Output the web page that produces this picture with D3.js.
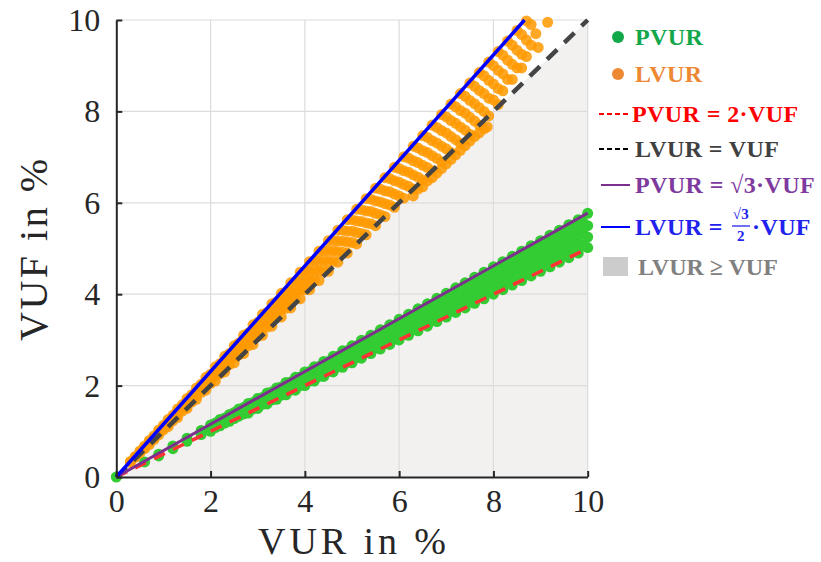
<!DOCTYPE html>
<html>
<head>
<meta charset="utf-8">
<script src="https://cdn.jsdelivr.net/npm/d3@7"></script>
<style>
  body { margin: 0; background: #fff; }
  text { font-family: "Liberation Serif", "DejaVu Serif", serif; }
</style>
</head>
<body>
<div id="chart"></div>
<script>
var svgWidth = 821;
var svgHeight = 562;

// tick values for both axes
var ticks = [0, 2, 4, 6, 8, 10];

// PVUR vs VUF points (green), [VUR, VUF]
var pvurPoints = [
  [0, 0], [0.6, 0.33], [0.9, 0.5], [0.9, 0.46], [1.2, 0.68], [1.2, 0.62], [1.5, 0.85], [1.5, 0.78],
  [1.8, 1.02], [1.8, 0.93], [2.0, 1.14], [2.0, 1.06], [2.0, 1.0], [2.2, 1.26], [2.2, 1.2], [2.2, 1.12],
  [2.4, 1.37], [2.4, 1.3], [2.4, 1.22], [2.6, 1.49], [2.6, 1.42], [2.6, 1.33],
  [2.8, 1.61], [2.8, 1.54], [2.8, 1.45], [2.8, 1.4], [3.0, 1.72], [3.0, 1.64], [3.0, 1.56], [3.0, 1.5],
  [3.2, 1.84], [3.2, 1.75], [3.2, 1.67], [3.2, 1.6], [3.4, 1.95], [3.4, 1.86], [3.4, 1.77], [3.4, 1.7],
  [3.6, 2.07], [3.6, 1.97], [3.6, 1.88], [3.6, 1.8], [3.8, 2.18], [3.8, 2.08], [3.8, 1.98], [3.8, 1.9],
  [4.0, 2.3], [4.0, 2.19], [4.0, 2.09], [4.0, 2.0], [4.2, 2.41], [4.2, 2.3], [4.2, 2.2], [4.2, 2.1],
  [4.4, 2.53], [4.4, 2.41], [4.4, 2.3], [4.4, 2.2], [4.6, 2.64], [4.6, 2.52], [4.6, 2.4], [4.6, 2.3],
  [4.8, 2.76], [4.8, 2.63], [4.8, 2.51], [4.8, 2.4], [5.0, 2.87], [5.0, 2.74], [5.0, 2.61], [5.0, 2.5],
  [5.2, 2.99], [5.2, 2.85], [5.2, 2.72], [5.2, 2.6], [5.4, 3.1], [5.4, 2.96], [5.4, 2.82], [5.4, 2.7],
  [5.6, 3.22], [5.6, 3.07], [5.6, 2.93], [5.6, 2.8], [5.8, 3.33], [5.8, 3.18], [5.8, 3.03], [5.8, 2.9],
  [6.0, 3.45], [6.0, 3.29], [6.0, 3.14], [6.0, 3.0], [6.2, 3.56], [6.2, 3.4], [6.2, 3.24], [6.2, 3.1],
  [6.4, 3.68], [6.4, 3.51], [6.4, 3.34], [6.4, 3.2], [6.6, 3.79], [6.6, 3.62], [6.6, 3.45], [6.6, 3.3],
  [6.8, 3.91], [6.8, 3.73], [6.8, 3.55], [6.8, 3.4], [7.0, 4.02], [7.0, 3.84], [7.0, 3.66], [7.0, 3.5],
  [7.2, 4.14], [7.2, 3.95], [7.2, 3.76], [7.2, 3.6], [7.4, 4.25], [7.4, 4.06], [7.4, 3.87], [7.4, 3.7],
  [7.6, 4.37], [7.6, 4.17], [7.6, 3.97], [7.6, 3.8], [7.8, 4.48], [7.8, 4.28], [7.8, 4.08], [7.8, 3.9],
  [8.0, 4.6], [8.0, 4.39], [8.0, 4.18], [8.0, 4.0], [8.2, 4.71], [8.2, 4.5], [8.2, 4.29], [8.2, 4.1],
  [8.4, 4.83], [8.4, 4.61], [8.4, 4.39], [8.4, 4.2], [8.6, 4.94], [8.6, 4.72], [8.6, 4.49], [8.6, 4.3],
  [8.8, 5.06], [8.8, 4.83], [8.8, 4.6], [8.8, 4.4], [9.0, 5.17], [9.0, 4.94], [9.0, 4.7], [9.0, 4.5],
  [9.2, 5.29], [9.2, 5.05], [9.2, 4.81], [9.2, 4.6], [9.4, 5.4], [9.4, 5.16], [9.4, 4.91], [9.4, 4.7],
  [9.6, 5.52], [9.6, 5.27], [9.6, 5.02], [9.6, 4.8], [9.8, 5.63], [9.8, 5.38], [9.8, 5.12], [9.8, 4.9],
  [10.0, 5.77], [10.0, 5.5], [10.0, 5.25], [10.0, 5.02],
  [2.1, 1.18], [2.1, 1.13], [2.1, 1.08], [2.3, 1.29], [2.3, 1.24], [2.3, 1.18], [2.5, 1.41], [2.5, 1.34], [2.5, 1.28],
  [2.7, 1.52], [2.7, 1.45], [2.7, 1.38], [2.9, 1.63], [2.9, 1.56], [2.9, 1.49], [3.1, 1.74], [3.1, 1.67], [3.1, 1.59],
  [3.3, 1.86], [3.3, 1.77], [3.3, 1.69], [3.5, 1.97], [3.5, 1.88], [3.5, 1.79], [3.7, 2.08], [3.7, 1.99], [3.7, 1.9],
  [3.9, 2.19], [3.9, 2.1], [3.9, 2.0], [4.1, 2.31], [4.1, 2.2], [4.1, 2.1], [4.3, 2.42], [4.3, 2.31], [4.3, 2.2],
  [4.5, 2.53], [4.5, 2.42], [4.5, 2.31], [4.7, 2.64], [4.7, 2.53], [4.7, 2.41], [4.9, 2.76], [4.9, 2.63], [4.9, 2.51],
  [5.1, 2.87], [5.1, 2.74], [5.1, 2.61], [5.3, 2.98], [5.3, 2.85], [5.3, 2.72], [5.5, 3.09], [5.5, 2.96], [5.5, 2.82],
  [5.7, 3.21], [5.7, 3.06], [5.7, 2.92], [5.9, 3.32], [5.9, 3.17], [5.9, 3.02], [6.1, 3.43], [6.1, 3.28], [6.1, 3.13],
  [6.3, 3.54], [6.3, 3.39], [6.3, 3.23], [6.5, 3.66], [6.5, 3.49], [6.5, 3.33], [6.7, 3.77], [6.7, 3.6], [6.7, 3.43],
  [6.9, 3.88], [6.9, 3.71], [6.9, 3.54], [7.1, 3.99], [7.1, 3.82], [7.1, 3.64], [7.3, 4.11], [7.3, 3.92], [7.3, 3.74],
  [7.5, 4.22], [7.5, 4.03], [7.5, 3.84], [7.7, 4.33], [7.7, 4.14], [7.7, 3.95], [7.9, 4.44], [7.9, 4.25], [7.9, 4.05],
  [8.1, 4.56], [8.1, 4.35], [8.1, 4.15], [8.3, 4.67], [8.3, 4.46], [8.3, 4.25], [8.5, 4.78], [8.5, 4.57], [8.5, 4.36],
  [8.7, 4.89], [8.7, 4.68], [8.7, 4.46], [8.9, 5.01], [8.9, 4.78], [8.9, 4.56], [9.1, 5.12], [9.1, 4.89], [9.1, 4.66],
  [9.3, 5.23], [9.3, 5.0], [9.3, 4.77], [9.5, 5.34], [9.5, 5.11], [9.5, 4.87], [9.7, 5.46], [9.7, 5.21], [9.7, 4.97],
  [9.9, 5.57], [9.9, 5.32], [9.9, 5.07]
];

// LVUR vs VUF points (orange), [VUR, VUF]
var lvurPoints = [
  [0.3, 0.34], [0.3, 0.32], [0.5, 0.57], [0.5, 0.53], [0.7, 0.8], [0.7, 0.76], [0.7, 0.71],
  [0.9, 1.03], [0.9, 0.98], [0.9, 0.92], [1.1, 1.26], [1.1, 1.2], [1.1, 1.15], [1.1, 1.1],
  [1.3, 1.49], [1.3, 1.42], [1.3, 1.36], [1.3, 1.3], [1.5, 1.72], [1.5, 1.65], [1.5, 1.57], [1.5, 1.5],
  [1.7, 1.95], [1.7, 1.86], [1.7, 1.78], [1.7, 1.7], [1.9, 2.18], [1.9, 2.08], [1.9, 1.99], [1.9, 1.9],
  [2.1, 2.41], [2.1, 2.3], [2.1, 2.2], [2.1, 2.1], [2.3, 2.64], [2.3, 2.53], [2.3, 2.41], [2.3, 2.3],
  [2.5, 2.87], [2.5, 2.75], [2.5, 2.62], [2.5, 2.5], [2.7, 3.1], [2.7, 2.97], [2.7, 2.83], [2.7, 2.7],
  [2.9, 3.33], [2.9, 3.18], [2.9, 3.04], [2.9, 2.9], [3.1, 3.56], [3.1, 3.4], [3.1, 3.25], [3.1, 3.1],
  [3.3, 3.79], [3.3, 3.62], [3.3, 3.46], [3.3, 3.3], [3.5, 4.02], [3.5, 3.85], [3.5, 3.67], [3.5, 3.5],
  [3.7, 4.25], [3.7, 4.06], [3.7, 3.88], [3.7, 3.7], [3.9, 4.48], [3.9, 4.28], [3.9, 4.09], [3.9, 3.9],
  [4.1, 4.71], [4.1, 4.5], [4.1, 4.3], [4.1, 4.1], [4.3, 4.94], [4.3, 4.72], [4.3, 4.51], [4.3, 4.3],
  [4.5, 5.17], [4.5, 4.95], [4.5, 4.72], [4.5, 4.5], [4.7, 5.4], [4.7, 5.16], [4.7, 4.93], [4.7, 4.7],
  [4.9, 5.63], [4.9, 5.38], [4.9, 5.14], [4.9, 4.9], [5.1, 5.86], [5.1, 5.6], [5.1, 5.35], [5.1, 5.1],
  [5.3, 6.09], [5.3, 5.82], [5.3, 5.56], [5.3, 5.3], [5.5, 6.32], [5.5, 6.04], [5.5, 5.77], [5.5, 5.5],
  [5.7, 6.55], [5.7, 6.26], [5.7, 5.98], [5.7, 5.7], [5.9, 6.78], [5.9, 6.48], [5.9, 6.19], [5.9, 5.9],
  [6.1, 7.01], [6.1, 6.7], [6.1, 6.4], [6.1, 6.1], [6.3, 7.24], [6.3, 6.92], [6.3, 6.61], [6.3, 6.3], [6.3, 6.15],
  [6.5, 7.47], [6.5, 7.14], [6.5, 6.82], [6.5, 6.5], [6.5, 6.35], [6.7, 7.7], [6.7, 7.36], [6.7, 7.03], [6.7, 6.7], [6.7, 6.55],
  [6.9, 7.93], [6.9, 7.58], [6.9, 7.24], [6.9, 6.9], [6.9, 6.75], [7.1, 8.16], [7.1, 7.8], [7.1, 7.45], [7.1, 7.1], [7.1, 6.95],
  [7.3, 8.39], [7.3, 8.02], [7.3, 7.66], [7.3, 7.3], [7.3, 7.15], [7.5, 8.62], [7.5, 8.24], [7.5, 7.87], [7.5, 7.5], [7.5, 7.35],
  [7.7, 8.85], [7.7, 8.46], [7.7, 8.08], [7.7, 7.7], [7.7, 7.53], [7.9, 9.08], [7.9, 8.68], [7.9, 8.29], [7.9, 7.9], [7.87, 7.66],
  [8.1, 9.31], [8.1, 8.9], [8.1, 8.5], [8.1, 8.15], [8.3, 9.54], [8.3, 9.12], [8.3, 8.7],
  [8.5, 9.77], [8.5, 9.34], [8.5, 8.95], [8.7, 9.98], [8.7, 9.56], [8.7, 9.2],
  [8.9, 9.7], [8.95, 9.4], [9.15, 9.95],
  [0.4, 0.45], [0.4, 0.43], [0.6, 0.68], [0.6, 0.64], [0.6, 0.62], [0.8, 0.9], [0.8, 0.86], [0.8, 0.82],
  [1.0, 1.13], [1.0, 1.08], [1.0, 1.03], [1.2, 1.35], [1.2, 1.29], [1.2, 1.23], [1.4, 1.58], [1.4, 1.51], [1.4, 1.44],
  [1.6, 1.8], [1.6, 1.72], [1.6, 1.64], [1.8, 2.03], [1.8, 1.94], [1.8, 1.85], [2.0, 2.25], [2.0, 2.15], [2.0, 2.05],
  [2.2, 2.48], [2.2, 2.37], [2.2, 2.26], [2.4, 2.7], [2.4, 2.58], [2.4, 2.46], [2.6, 2.93], [2.6, 2.8], [2.6, 2.67],
  [2.8, 3.15], [2.8, 3.01], [2.8, 2.87], [3.0, 3.38], [3.0, 3.23], [3.0, 3.08], [3.2, 3.6], [3.2, 3.44], [3.2, 3.28],
  [3.4, 3.83], [3.4, 3.66], [3.4, 3.49], [3.6, 4.05], [3.6, 3.87], [3.6, 3.69], [3.8, 4.28], [3.8, 4.09], [3.8, 3.9],
  [4.0, 4.5], [4.0, 4.3], [4.0, 4.1], [4.2, 4.73], [4.2, 4.52], [4.2, 4.31], [4.4, 4.95], [4.4, 4.73], [4.4, 4.51],
  [4.6, 5.18], [4.6, 4.95], [4.6, 4.72], [4.8, 5.4], [4.8, 5.16], [4.8, 4.92], [5.0, 5.63], [5.0, 5.38], [5.0, 5.13],
  [5.2, 5.85], [5.2, 5.59], [5.2, 5.33], [5.4, 6.08], [5.4, 5.81], [5.4, 5.54], [5.6, 6.3], [5.6, 6.02], [5.6, 5.74],
  [5.8, 6.53], [5.8, 6.24], [5.8, 5.95], [6.0, 6.75], [6.0, 6.45], [6.0, 6.15], [6.2, 6.98], [6.2, 6.67], [6.2, 6.36],
  [6.4, 7.2], [6.4, 6.88], [6.4, 6.56], [6.4, 6.3], [6.6, 7.43], [6.6, 7.1], [6.6, 6.77], [6.6, 6.48],
  [6.8, 7.65], [6.8, 7.31], [6.8, 6.97], [6.8, 6.65], [7.0, 7.88], [7.0, 7.53], [7.0, 7.18], [7.0, 6.85],
  [7.2, 8.1], [7.2, 7.74], [7.2, 7.38], [7.2, 7.05], [7.4, 8.33], [7.4, 7.96], [7.4, 7.59], [7.4, 7.25],
  [7.6, 8.55], [7.6, 8.17], [7.6, 7.79], [7.6, 7.45], [7.8, 8.78], [7.8, 8.39], [7.8, 8.0], [7.8, 7.62],
  [8.0, 9.0], [8.0, 8.6], [8.0, 8.25], [8.2, 9.23], [8.2, 8.82], [8.2, 8.45], [8.4, 9.45], [8.4, 9.03], [8.4, 8.7],
  [8.6, 9.68], [8.6, 9.25], [8.6, 8.95], [8.8, 9.9], [8.8, 9.45]
];

// reference lines, end points in [VUR, VUF]
var linePvur2 = [[0, 0], [10, 5]];
var lineLvur1 = [[0, 0], [10, 10]];
var linePvurSqrt3 = [[0, 0], [10, 5.774]];
var lineLvurHalfSqrt3 = [[0, 0], [8.66, 10]];
var shadeRegion = [[0, 0], [10, 0], [10, 10]];

var svg = d3.select("#chart")
  .append("svg")
  .attr("width", svgWidth)
  .attr("height", svgHeight);

var x = d3.scaleLinear().domain([0, 10]).range([116.3, 587.7]);
var y = d3.scaleLinear().domain([0, 10]).range([477, 20]);

// shaded area LVUR >= VUF
svg.append("path")
  .attr("d", d3.line().x(d => x(d[0])).y(d => y(d[1]))(shadeRegion) + "Z")
  .attr("fill", "#f2f1f0");

// grid
var grid = svg.append("g");
grid.selectAll(".gx")
  .data(ticks.slice(1))
  .enter()
  .append("line")
  .attr("x1", d => x(d)).attr("x2", d => x(d))
  .attr("y1", y(0)).attr("y2", y(10))
  .attr("stroke", "#dcdcdc").attr("stroke-width", 1.2);
grid.selectAll(".gy")
  .data(ticks.slice(1))
  .enter()
  .append("line")
  .attr("y1", d => y(d)).attr("y2", d => y(d))
  .attr("x1", x(0)).attr("x2", x(10))
  .attr("stroke", "#dcdcdc").attr("stroke-width", 1.2);

// scatter points
svg.append("g").selectAll("circle")
  .data(pvurPoints)
  .enter()
  .append("circle")
  .attr("cx", d => x(d[0]))
  .attr("cy", d => y(d[1]))
  .attr("r", 5.5)
  .attr("fill", "#33cc33");

svg.append("g").selectAll("circle")
  .data(lvurPoints)
  .enter()
  .append("circle")
  .attr("cx", d => x(d[0]))
  .attr("cy", d => y(d[1]))
  .attr("r", 5.5)
  .attr("fill", "#ff9900")
  .attr("fill-opacity", 0.85);

// reference lines
var line = d3.line().x(d => x(d[0])).y(d => y(d[1]));

svg.append("path").attr("d", line(linePvur2))
  .attr("stroke", "#ff3333").attr("stroke-width", 3.5).attr("fill", "none")
  .attr("stroke-dasharray", "12,9");
svg.append("path").attr("d", line(lineLvur1))
  .attr("stroke", "#444444").attr("stroke-width", 4.5).attr("fill", "none")
  .attr("stroke-dasharray", "14,10");
svg.append("path").attr("d", line(linePvurSqrt3))
  .attr("stroke", "#7e2f8e").attr("stroke-width", 3).attr("fill", "none");
svg.append("path").attr("d", line(lineLvurHalfSqrt3))
  .attr("stroke", "#0000ff").attr("stroke-width", 3.5).attr("fill", "none");

// axes with inward ticks
var xAxis = d3.axisBottom(x).tickValues(ticks).tickSize(-6).tickSizeOuter(0).tickPadding(13);
var yAxis = d3.axisLeft(y).tickValues(ticks).tickSize(-6).tickSizeOuter(0).tickPadding(16);

var gx = svg.append("g").attr("transform", `translate(0, ${y(0)})`).call(xAxis);
var gy = svg.append("g").attr("transform", `translate(${x(0)}, 0)`).call(yAxis);

[gx, gy].forEach(function(g) {
  g.attr("font-family", "Liberation Serif, serif").attr("font-size", 32);
  g.select(".domain").attr("stroke", "#262626").attr("stroke-width", 2);
  g.selectAll(".tick line").attr("stroke", "#262626").attr("stroke-width", 2);
  g.selectAll(".tick text").attr("fill", "#262626");
});
gx.selectAll(".tick text").attr("dy", "0.7em");
gy.selectAll(".tick text").attr("dy", "0.33em");

// axis labels
svg.append("text")
  .attr("x", 352).attr("y", 554)
  .attr("text-anchor", "middle")
  .attr("fill", "#262626")
  .attr("textLength", 188)
  .attr("lengthAdjust", "spacing")
  .style("font-size", "38px")
  .text("VUR in %");

svg.append("text")
  .attr("transform", "translate(47, 250) rotate(-90)")
  .attr("text-anchor", "middle")
  .attr("fill", "#262626")
  .attr("textLength", 182)
  .attr("lengthAdjust", "spacing")
  .style("font-size", "40px")
  .text("VUF in %");

// legend
var legend = svg.append("g").style("font-weight", "bold").style("font-size", "24px")
  .style("letter-spacing", "0.4px");

legend.append("circle").attr("cx", 618).attr("cy", 37).attr("r", 6).attr("fill", "#12a84a");
legend.append("text").attr("x", 635).attr("y", 45).attr("fill", "#12a84a").text("PVUR");

legend.append("circle").attr("cx", 618).attr("cy", 74).attr("r", 6).attr("fill", "#ee8833");
legend.append("text").attr("x", 635).attr("y", 82).attr("fill", "#ee8833").text("LVUR");

legend.append("line").attr("x1", 599).attr("x2", 630).attr("y1", 114).attr("y2", 114)
  .attr("stroke", "#ff0000").attr("stroke-width", 2).attr("stroke-dasharray", "5,3");
legend.append("text").attr("x", 632).attr("y", 122).attr("fill", "#ff0000")
  .text("PVUR = 2\u00b7VUF");

legend.append("line").attr("x1", 599).attr("x2", 630).attr("y1", 149).attr("y2", 149)
  .attr("stroke", "#000000").attr("stroke-width", 2).attr("stroke-dasharray", "5,3");
legend.append("text").attr("x", 635).attr("y", 157).attr("fill", "#404040")
  .text("LVUR = VUF");

legend.append("line").attr("x1", 601).attr("x2", 630).attr("y1", 185).attr("y2", 185)
  .attr("stroke", "#7e2f8e").attr("stroke-width", 2);
legend.append("text").attr("x", 635).attr("y", 193).attr("fill", "#7e3a9e")
  .text("PVUR = \u221a3\u00b7VUF");

legend.append("line").attr("x1", 601).attr("x2", 630).attr("y1", 227).attr("y2", 227)
  .attr("stroke", "#0000ff").attr("stroke-width", 2);
legend.append("text").attr("x", 635).attr("y", 235).attr("fill", "#2222ee").text("LVUR =");
legend.append("text").attr("x", 741).attr("y", 219).attr("text-anchor", "middle")
  .attr("fill", "#2222ee").style("font-size", "15px").text("\u221a3");
legend.append("line").attr("x1", 732).attr("x2", 750).attr("y1", 226).attr("y2", 226)
  .attr("stroke", "#2222ee").attr("stroke-width", 1.3);
legend.append("text").attr("x", 741).attr("y", 241).attr("text-anchor", "middle")
  .attr("fill", "#2222ee").style("font-size", "15px").text("2");
legend.append("text").attr("x", 752).attr("y", 235).attr("fill", "#2222ee").text("\u00b7VUF");

legend.append("rect").attr("x", 603).attr("y", 257).attr("width", 25).attr("height", 19)
  .attr("fill", "#cccccc");
legend.append("text").attr("x", 638).attr("y", 275).attr("fill", "#808080")
  .style("letter-spacing", "0px")
  .text("LVUR \u2265 VUF");
</script>
</body>
</html>
